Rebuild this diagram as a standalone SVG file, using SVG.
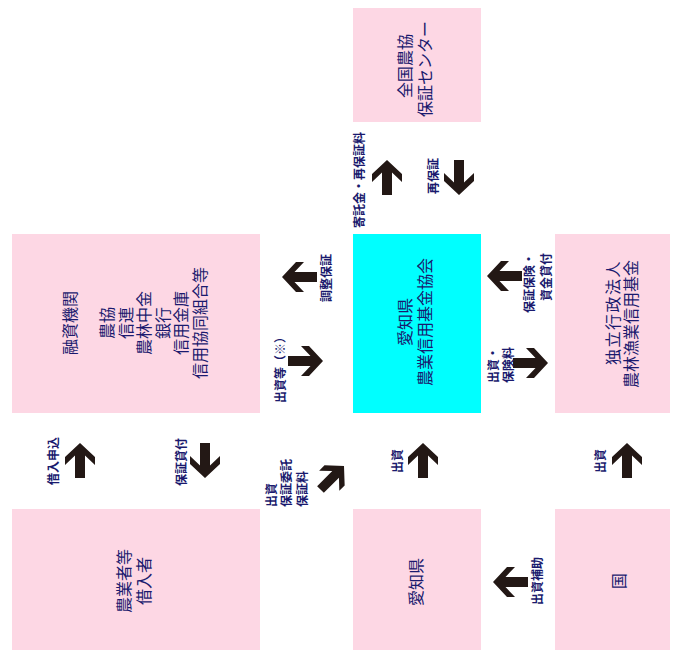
<svg xmlns="http://www.w3.org/2000/svg" xmlns:xlink="http://www.w3.org/1999/xlink" width="676" height="650" viewBox="0 0 676 650">
<style>
.box{fill:#fdd7e4}
.hub{fill:#00ffff}
.t{font-family:"Noto Sans CJK JP","Noto Sans CJK SC",sans-serif;font-size:16px;fill:#1a1a6e;dominant-baseline:central;text-anchor:middle}
.l{font-family:"Noto Sans CJK JP","Noto Sans CJK SC",sans-serif;font-size:12px;font-weight:bold;fill:#1a1a6e;dominant-baseline:central;text-anchor:middle}
.s{text-anchor:start}
.e{text-anchor:end}
.arr{fill:#231815}
</style>
<defs>
<path id="arr" d="M0,0 L15,14 L15,22 L5,12.5 L5,35 L-5,35 L-5,12.5 L-15,22 L-15,14 Z"/>
</defs>
<rect width="676" height="650" fill="#ffffff"/>

<g id="zenkoku">
<rect class="box" x="353" y="8" width="128" height="114"/>
<text class="t" transform="translate(404,66) rotate(-90)">全国農協</text>
<text class="t" transform="translate(424,69) rotate(-90)">保証センター</text>
</g>

<g id="kyokai">
<rect class="hub" x="353" y="234" width="128" height="179"/>
<text class="t" transform="translate(404,322) rotate(-90)">愛知県</text>
<text class="t" transform="translate(424,322) rotate(-90)">農業信用基金協会</text>
</g>

<g id="yushi">
<rect class="box" x="12" y="234" width="248" height="179"/>
<text class="t" transform="translate(69,323) rotate(-90)">融資機関</text>
<text class="t" transform="translate(106,323) rotate(-90)">農協</text>
<text class="t" transform="translate(124.5,323) rotate(-90)">信連</text>
<text class="t" transform="translate(143,323) rotate(-90)">農林中金</text>
<text class="t" transform="translate(161.5,323) rotate(-90)">銀行</text>
<text class="t" transform="translate(180,323) rotate(-90)">信用金庫</text>
<text class="t" transform="translate(198.5,323) rotate(-90)">信用協同組合等</text>
</g>

<g id="kikin">
<rect class="box" x="555" y="234" width="115" height="179"/>
<text class="t e" transform="translate(612,260) rotate(-90)" letter-spacing="1.5">独立行政法人</text>
<text class="t e" transform="translate(630,260) rotate(-90)">農林漁業信用基金</text>
</g>

<g id="nogyosha">
<rect class="box" x="12" y="509" width="248" height="141"/>
<text class="t" transform="translate(123,581) rotate(-90)">農業者等</text>
<text class="t" transform="translate(143,581) rotate(-90)">借入者</text>
</g>

<g id="aichi">
<rect class="box" x="353" y="509" width="128" height="141"/>
<text class="t" transform="translate(415,582) rotate(-90)">愛知県</text>
</g>

<g id="kuni">
<rect class="box" x="555" y="509" width="115" height="141"/>
<text class="t" transform="translate(618,581) rotate(-90)">国</text>
</g>

<g id="connectors">
<g class="arr">
<use xlink:href="#arr" transform="translate(387,160)"/>
<use xlink:href="#arr" transform="translate(459,195) rotate(180)"/>
<use xlink:href="#arr" transform="translate(282,277) rotate(-90)"/>
<use xlink:href="#arr" transform="translate(323,361) rotate(90)"/>
<use xlink:href="#arr" transform="translate(487,276) rotate(-90)"/>
<use xlink:href="#arr" transform="translate(548,363) rotate(90)"/>
<use xlink:href="#arr" transform="translate(80,443)"/>
<use xlink:href="#arr" transform="translate(205,478) rotate(180)"/>
<use xlink:href="#arr" transform="translate(344,466) rotate(45) scale(0.95)"/>
<use xlink:href="#arr" transform="translate(423,443)"/>
<use xlink:href="#arr" transform="translate(627,443)"/>
<use xlink:href="#arr" transform="translate(493,582) rotate(-90)"/>
</g>
<text class="l" transform="translate(358,180) rotate(-90)">寄託金・再保証料</text>
<text class="l" transform="translate(432,176) rotate(-90)">再保証</text>
<text class="l" transform="translate(325,278) rotate(-90)">調整保証</text>
<text class="l" transform="translate(279,367) rotate(-90)">出資等（※）</text>
<text class="l e" transform="translate(528,253) rotate(-90)">保証保険・</text>
<text class="l e" transform="translate(545,253) rotate(-90)">資金貸付</text>
<text class="l" transform="translate(492,365) rotate(-90)">出資・</text>
<text class="l" transform="translate(507,365) rotate(-90)">保険料</text>
<text class="l" transform="translate(52,461) rotate(-90)">借入申込</text>
<text class="l" transform="translate(180,462) rotate(-90)">保証貸付</text>
<text class="l s" transform="translate(270,507) rotate(-90)">出資</text>
<text class="l s" transform="translate(285,507) rotate(-90)">保証委託</text>
<text class="l s" transform="translate(301,507) rotate(-90)">保証料</text>
<text class="l" transform="translate(396,461) rotate(-90)">出資</text>
<text class="l" transform="translate(599,461) rotate(-90)">出資</text>
<text class="l" transform="translate(536,581) rotate(-90)">出資補助</text>
</g>
</svg>
